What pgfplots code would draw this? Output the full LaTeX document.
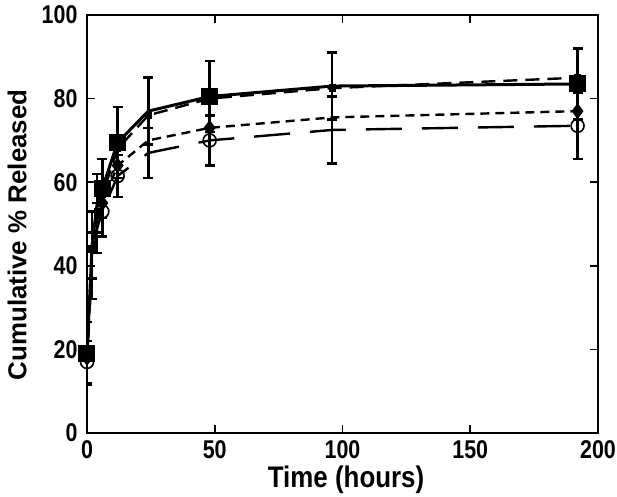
\documentclass[border=0pt]{standalone}
\usepackage{fontspec}
\setmainfont{Liberation Sans}
\usepackage{pgfplots}
\pgfplotsset{compat=1.18}

\begin{document}
\begin{tikzpicture}
\begin{axis}[
  name=ax,
  scale only axis,
  width=511bp, height=418bp,
  xmin=0, xmax=200, ymin=0, ymax=100,
  xtick={0,50,...,200}, ytick={0,20,...,100},
  tick align=inside,
  major tick length=8bp,
  axis line style={line width=2.6bp},
  tick style={line width=1.6bp, black},
  tick label style={font=\fontsize{21.5}{24}\selectfont\bfseries, yscale=1.2},
  /pgf/number format/assume math mode=true,
  xticklabel shift=3bp,
  yticklabel style={xshift=-6bp},
  xlabel={Time (hours)},
  ylabel={Cumulative \% Released},
  label style={font=\fontsize{26}{28}\selectfont\bfseries},
  xlabel style={at={(axis description cs:0.507,-0.112)}, anchor=center, yscale=1.15},
  ylabel style={at={(axis description cs:-0.137,0.474)}, anchor=center},
  every axis plot/.append style={line width=2.4bp},
  error bars/error bar style={line width=2.4bp, solid},
  error bars/error mark options={rotate=90, mark size=5bp, line width=2.4bp, solid},
]
% series B: small squares, medium dashes
\addplot[black, dash pattern=on 14bp off 8bp, mark=square*, mark size=2.5bp,
  mark options={solid}] coordinates {
  (0,18) (2,44) (4,53) (6,57) (12,68) (24,76) (48,80) (96,82.5) (192,85)
};
% series C: diamonds, short dashes
\addplot[black, dash pattern=on 9bp off 6bp, mark=diamond*, mark size=6bp,
  mark options={solid}, mark indices={1,4,5,7,9}] coordinates {
  (0,18) (2,42) (4,51) (6,55) (12,64) (24,70) (48,73) (96,75.5) (192,77)
};
% series D: open circles, long dashes
\addplot[black, dash pattern=on 36bp off 20bp, mark=o, mark size=6.5bp,
  mark options={solid, line width=1.6bp, fill=white}, mark indices={1,4,5,7,9},
  error bars/.cd, y dir=both, y explicit] coordinates {
  (0,17) +- (0,5)
  (2,40) +- (0,8)
  (4,49) +- (0,6)
  (6,53) +- (0,6)
  (12,61.5) +- (0,5)
  (24,67) +- (0,6)
  (48,70) +- (0,6)
  (96,72.5) +- (0,8)
  (192,73.5) +- (0,8)
};
% series A: filled squares, solid line
\addplot[black, solid, line width=3bp, mark=square*, mark size=7bp,
  mark indices={1,4,5,7,9},
  error bars/.cd, y dir=both, y explicit] coordinates {
  (0,19) +- (0,7.5)
  (2,45) +- (0,8)
  (4,55) +- (0,7)
  (6,58.5) +- (0,7)
  (12,69.5) +- (0,8.5)
  (24,77) +- (0,8)
  (48,80.5) +- (0,8.5)
  (96,83) +- (0,8)
  (192,83.5) +- (0,8.5)
};
\end{axis}
\pgfresetboundingbox
\path[use as bounding box] ([xshift=-87bp,yshift=-64bp]ax.south west)
  rectangle ([xshift=19bp,yshift=15bp]ax.north east);
\end{tikzpicture}
\end{document}
